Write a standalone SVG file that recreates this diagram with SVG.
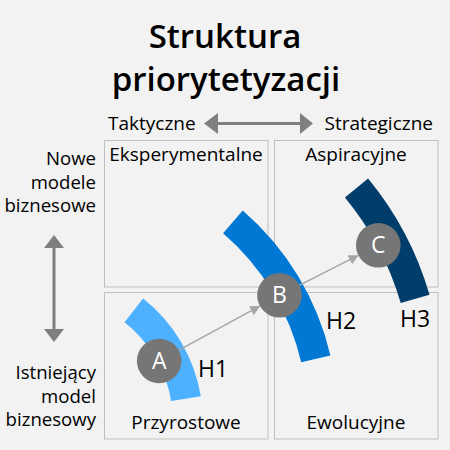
<svg xmlns="http://www.w3.org/2000/svg" width="450" height="450" viewBox="0 0 450 450">
<defs>
<style>
text{font-family:"Open Sans","Noto Sans","DejaVu Sans",sans-serif;fill:#000}
.title{font-size:33px;font-weight:600;text-anchor:middle}
.axis{font-size:19px}
.lbl{font-size:19px;text-anchor:middle}
.side{font-size:18.6px;text-anchor:end}
.h{font-size:23px}
.box{fill:none;stroke:#bfbfbf;stroke-width:1}
.band{fill:none;stroke-width:30}
.node circle{fill:#767676}
.node text{fill:#fff;font-size:23px;text-anchor:middle}
.flow{stroke:#a6a6a6;stroke-width:1.5;fill:none}
.ax{stroke:#7f7f7f;stroke-width:3;fill:none}
</style>
<marker id="ah" viewBox="0 0 10 10" refX="10" refY="5" markerWidth="10" markerHeight="10" markerUnits="userSpaceOnUse" orient="auto">
<path d="M0,0 L10,5 L0,10 Z" fill="#a6a6a6"/>
</marker>
</defs>
<rect width="450" height="450" fill="#f2f2f2"/>
<text class="title" x="225" y="48">Struktura</text>
<text class="title" x="226" y="91">priorytetyzacji</text>
<g id="axes">
<text class="axis" x="108" y="130">Taktyczne</text>
<text class="axis" x="433" y="130" text-anchor="end">Strategiczne</text>
<line class="ax" x1="216" y1="123.5" x2="302" y2="123.5"/>
<path d="M204,123.5 L218,113 L218,134 Z" fill="#7f7f7f"/>
<path d="M313,123.5 L300,113 L300,134 Z" fill="#7f7f7f"/>
<line class="ax" x1="54" y1="246" x2="54" y2="331"/>
<path d="M54,235 L44,248 L64,248 Z" fill="#7f7f7f"/>
<path d="M54,342 L44,329 L64,329 Z" fill="#7f7f7f"/>
<text class="side" x="96" y="165">Nowe</text>
<text class="side" x="96" y="188.5">modele</text>
<text class="side" x="96" y="212">biznesowe</text>
<text class="side" x="96" y="379">Istniejący</text>
<text class="side" x="96" y="402.5">model</text>
<text class="side" x="96" y="426">biznesowy</text>
</g>
<g id="q-eksperymentalne"><rect class="box" x="104.5" y="140.5" width="163.5" height="146.5"/><text class="lbl" x="186" y="161">Eksperymentalne</text></g>
<g id="q-aspiracyjne"><rect class="box" x="274.5" y="140.5" width="163.5" height="146.5"/><text class="lbl" x="356" y="161">Aspiracyjne</text></g>
<g id="q-przyrostowe"><rect class="box" x="104.5" y="292.5" width="163.5" height="146.5"/><text class="lbl" x="186" y="429">Przyrostowe</text></g>
<g id="q-ewolucyjne"><rect class="box" x="274.5" y="292.5" width="163.5" height="146.5"/><text class="lbl" x="356" y="429">Ewolucyjne</text></g>
<g id="h1"><path class="band" stroke="#4db1ff" d="M133.8,310.4 A142,142 0 0 1 186,398.6"/><text class="h" x="198" y="377">H1</text></g>
<g id="h2"><path class="band" stroke="#0078d4" d="M232.9,221.8 A258.5,258.5 0 0 1 315.8,358.9"/><text class="h" x="326" y="329">H2</text></g>
<g id="h3"><path class="band" stroke="#003d6b" d="M356.5,188 A310,310 0 0 1 415.1,298.9"/><text class="h" x="400" y="327">H3</text></g>
<g id="connectors">
<line class="flow" x1="178.5" y1="350.4" x2="260.2" y2="305.9" marker-end="url(#ah)"/>
<line class="flow" x1="299.1" y1="285.4" x2="358.7" y2="255.2" marker-end="url(#ah)"/>
</g>
<g id="node-a" class="node"><circle cx="159.2" cy="361" r="22.3"/><text x="159.2" y="369">A</text></g>
<g id="node-b" class="node"><circle cx="279.5" cy="295.3" r="22.3"/><text x="279.5" y="303.3">B</text></g>
<g id="node-c" class="node"><circle cx="378.3" cy="245.3" r="22.3"/><text x="378.3" y="253.3">C</text></g>
</svg>
